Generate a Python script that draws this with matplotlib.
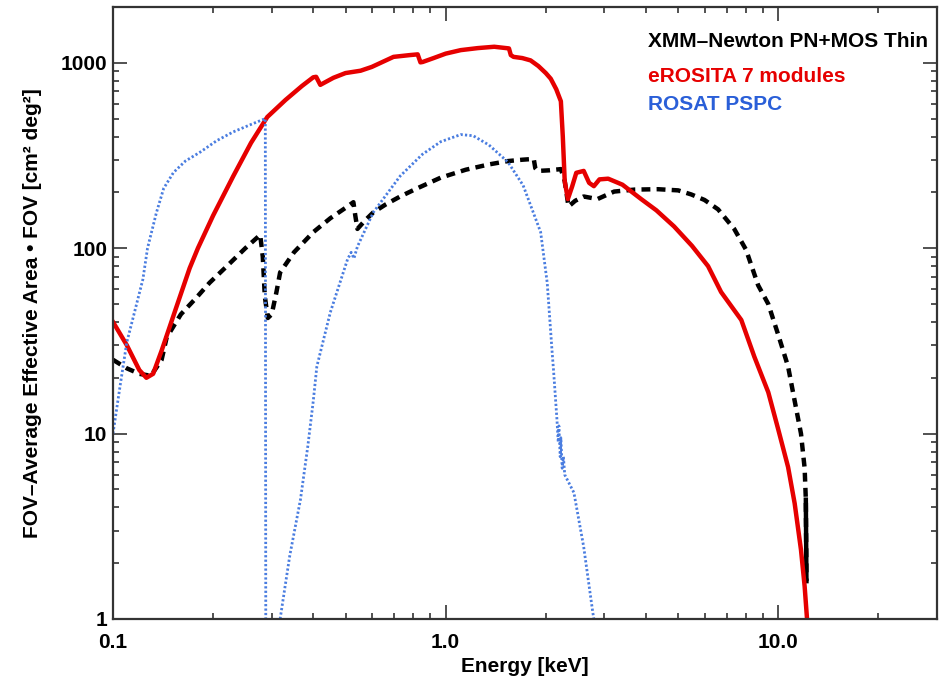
from matplotlib import pyplot as plt
from matplotlib.ticker import LogLocator, FixedLocator, FixedFormatter, NullFormatter
import numpy as np

plt.rcParams['font.family'] = ['Liberation Sans', 'DejaVu Sans']
plt.rcParams['font.weight'] = 'bold'
plt.rcParams['axes.labelweight'] = 'bold'

# XMM-Newton PN+MOS thin (black dashed)
e_xmm = [0.100, 0.110, 0.120, 0.130, 0.140, 0.145, 0.160, 0.178, 0.195, 0.220, 0.250, 0.277, 0.282, 0.286,
         0.292, 0.300, 0.310, 0.318, 0.350, 0.400, 0.450, 0.500, 0.528, 0.535, 0.543, 0.570, 0.606, 0.660,
         0.730, 0.820, 0.966, 1.150, 1.350, 1.540, 1.700, 1.840, 1.860, 1.890, 2.050, 2.220, 2.280, 2.340,
         2.380, 2.450, 2.600, 2.860, 3.210, 3.700, 4.350, 5.000, 5.470, 6.000, 6.590, 7.370, 8.000, 8.700,
         9.330, 10.00, 10.70, 11.20, 11.70, 12.00, 12.10, 12.15]
a_xmm = [25, 22.5, 21, 20.5, 25, 33, 44, 54, 65, 80, 100, 118, 90, 55,
         42, 44, 58, 74, 95, 122, 145, 165, 177, 150, 127, 140, 156, 172,
         190, 210, 240, 265, 283, 295, 300, 303, 270, 261, 263, 267, 230, 168,
         172, 180, 190, 184, 202, 207, 208, 205, 195, 182, 162, 127, 98, 63,
         50, 34, 23, 15, 10, 6.5, 4.4, 1.6]

# eROSITA 7 modules (red solid)
e_ero = [0.100, 0.110, 0.120, 0.126, 0.132, 0.140, 0.155, 0.170, 0.180, 0.200, 0.230, 0.260, 0.291, 0.330,
         0.370, 0.400, 0.408, 0.420, 0.460, 0.500, 0.555, 0.600, 0.697, 0.780, 0.824, 0.840, 0.853, 0.920,
         1.000, 1.110, 1.250, 1.400, 1.550, 1.570, 1.600, 1.700, 1.800, 1.900, 2.000, 2.070, 2.150, 2.220,
         2.250, 2.280, 2.330, 2.400, 2.470, 2.600, 2.700, 2.790, 2.900, 3.080, 3.400, 3.870, 4.300, 4.860,
         5.500, 6.150, 6.730, 7.740, 8.470, 9.330, 10.00, 10.70, 11.20, 11.70, 12.00, 12.20]
a_ero = [40, 30, 22, 20, 21, 28, 48, 78, 100, 150, 245, 370, 510, 630,
         750, 835, 840, 760, 830, 880, 906, 950, 1076, 1100, 1110, 1005, 1010, 1060,
         1120, 1170, 1200, 1220, 1195, 1100, 1076, 1060, 1030, 960, 880, 820, 720, 620,
         400, 230, 184, 215, 255, 261, 225, 216, 235, 237, 220, 184, 160, 131,
         103, 80, 58, 41, 26, 16.7, 10.5, 6.6, 4.2, 2.36, 1.5, 1.0]

# ROSAT PSPC (blue dotted), two pieces around the carbon edge
e_ros1 = [0.100, 0.105, 0.110, 0.116, 0.123, 0.127, 0.135, 0.142, 0.152, 0.165, 0.183, 0.205, 0.230, 0.260,
          0.287, 0.288]
a_ros1 = [10, 18, 31, 45, 68, 100, 155, 210, 256, 295, 330, 380, 424, 465,
          500, 0.5]
e_ros2 = [0.318, 0.340, 0.366, 0.385, 0.400, 0.410, 0.450, 0.507, 0.520, 0.530, 0.543, 0.606, 0.730, 0.850,
          0.966, 1.110, 1.210, 1.350, 1.540, 1.710, 1.930, 2.020, 2.090, 2.110, 2.160, 2.180, 2.190, 2.210,
          2.220, 2.240, 2.260, 2.280, 2.430, 2.600, 2.770, 2.850]
a_ros2 = [1.0, 2.2, 4.4, 8.5, 15, 23, 45, 87, 95, 88, 102, 156, 245, 320,
          375, 410, 404, 360, 291, 218, 122, 65, 27.4, 22, 12, 9.0, 11, 7.5,
          9.5, 6.5, 7.5, 6.0, 4.8, 2.45, 1.08, 0.8]

x_ticks = [0.1, 1.0, 10.0]
x_labels = ["0.1", "1.0", "10.0"]
y_ticks = [1, 10, 100, 1000]
y_labels = ["1", "10", "100", "1000"]

fig = plt.figure(figsize=(9.44, 6.82), dpi=100)
ax = fig.add_axes([0.1197, 0.0924, 0.8729, 0.8974])

ax.plot(e_xmm, a_xmm, color='black', lw=3.2, linestyle=(0, (2.0, 1.4)))
ax.plot(e_xmm[-2:], a_xmm[-2:], color='black', lw=3.2)
ax.plot(e_ero, a_ero, color='#e60000', lw=3.2)
ax.plot(e_ros1, a_ros1, color='#4a7de0', lw=2.0, linestyle=(0, (0.8, 0.8)))
ax.plot(e_ros2, a_ros2, color='#4a7de0', lw=2.0, linestyle=(0, (0.8, 0.8)))

ax.set_xscale('log')
ax.set_yscale('log')
ax.set_xlim(0.1, 30)
ax.set_ylim(1, 2000)

ax.xaxis.set_major_locator(FixedLocator(x_ticks))
ax.xaxis.set_major_formatter(FixedFormatter(x_labels))
ax.xaxis.set_minor_locator(LogLocator(base=10, subs=np.arange(2, 10)))
ax.xaxis.set_minor_formatter(NullFormatter())
ax.yaxis.set_major_locator(FixedLocator(y_ticks))
ax.yaxis.set_major_formatter(FixedFormatter(y_labels))
ax.yaxis.set_minor_locator(LogLocator(base=10, subs=np.arange(2, 10)))
ax.yaxis.set_minor_formatter(NullFormatter())

ax.tick_params(which='both', direction='in', top=True, right=True, color='#333333', width=1.2)
ax.tick_params(which='major', length=10, labelsize=15)
ax.tick_params(which='minor', length=4.5)
ax.tick_params(axis='x', which='major', pad=10)
ax.tick_params(axis='y', which='major', pad=4)
for s in ax.spines.values():
    s.set_linewidth(1.6)
    s.set_color('#333333')

ax.set_xlabel("Energy [keV]", fontsize=15, va='center')
ax.xaxis.set_label_coords(0.5, -0.077)
ax.set_ylabel("FOV\u2013Average Effective Area \u2022 FOV [cm² deg²]", fontsize=15, va='center')
ax.yaxis.set_label_coords(-0.098, 0.5)

fig.text(648/944, 1 - 47/682, "XMM\u2013Newton PN+MOS Thin", color='black', fontsize=15, va='baseline')
fig.text(648/944, 1 - 82/682, "eROSITA 7 modules", color='#e60000', fontsize=15, va='baseline')
fig.text(648/944, 1 - 110/682, "ROSAT PSPC", color='#2a5fd8', fontsize=15, va='baseline')

plt.savefig("out.png", dpi=100)
